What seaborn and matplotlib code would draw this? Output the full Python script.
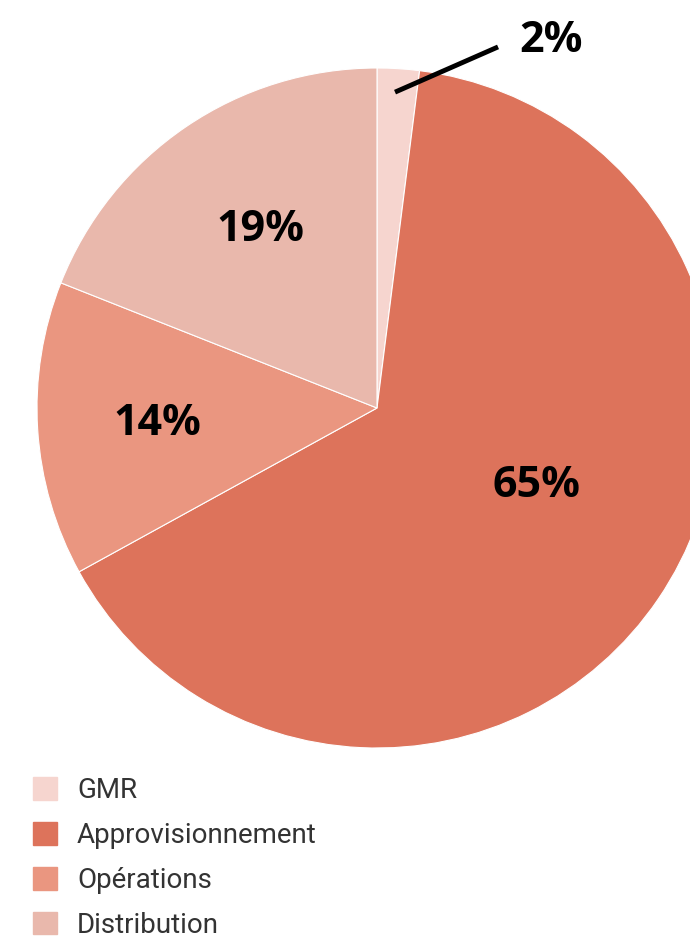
import matplotlib
matplotlib.use('Agg')
import matplotlib.pyplot as plt
import seaborn as sns
import numpy as np

# Data
categories = ['GMR', 'Approvisionnement', 'Opérations', 'Distribution']
shares = [2, 65, 14, 19]
colors = ['#F6D5CF', '#DD735B', '#EA9680', '#E9B8AC']
# label positions in pie units (x, y)
label_pos = [(0.512, 1.082), (0.468, -0.229), (-0.647, -0.047), (-0.344, 0.524)]
# leader line for the small GMR slice (pie units)
leader_x = [0.053, 0.356]
leader_y = [0.929, 1.062]

sns.set_theme(style='white')
plt.rcParams['font.family'] = ['Open Sans', 'DejaVu Sans']

W, H = 690, 940
fig = plt.figure(figsize=(W / 100, H / 100), dpi=100)
cx, cy, r = 377, 408, 340
ax = fig.add_axes([(cx - r) / W, (H - cy - r) / H, 2 * r / W, 2 * r / H])

wedges, _ = ax.pie(shares, colors=colors, startangle=90, counterclock=False,
                   radius=1, wedgeprops=dict(edgecolor='white', linewidth=0.8))
for w in wedges:
    w.set_clip_on(False)
ax.set_xlim(-1, 1)
ax.set_ylim(-1, 1)
ax.set_aspect('equal')
ax.axis('off')

ax.plot(leader_x, leader_y, color='black', lw=3.5, clip_on=False,
        solid_capstyle='butt')
for val, (x, y) in zip(shares, label_pos):
    ax.text(x, y, f'{val}%', ha='center', va='center', fontsize=31,
            fontweight='bold', color='black', clip_on=False)

handles = [plt.Rectangle((0, 0), 1, 1, color=c) for c in colors]
leg = fig.legend(handles, categories, loc='upper left',
                 bbox_to_anchor=(25 / W, 1 - 769 / H), frameon=False,
                 prop={'family': 'Roboto', 'size': 20},
                 handlelength=0.87, handleheight=0.87, handletextpad=0.7,
                 labelspacing=0.64, borderaxespad=0, borderpad=0.3)
for t in leg.get_texts():
    t.set_color('#333333')

fig.savefig('out.png', dpi=100)
